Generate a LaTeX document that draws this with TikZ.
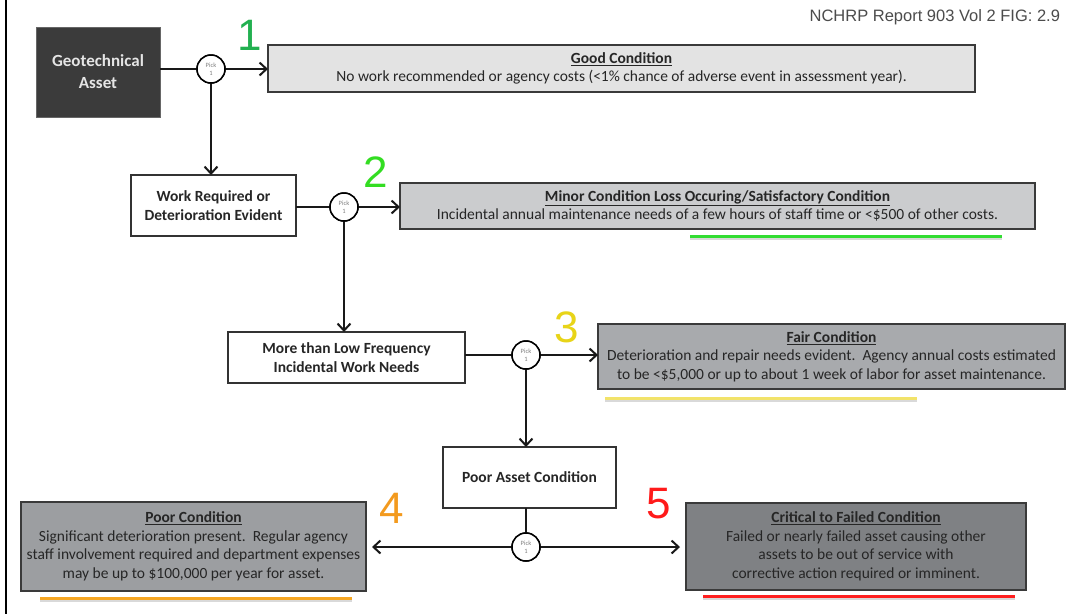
\documentclass[tikz,border=0pt]{standalone}
\usepackage{fontspec}
\setmainfont{Carlito}
\newfontfamily\arialf{Liberation Sans}
\usetikzlibrary{arrows.meta}
\definecolor{bordc}{HTML}{3A3A3A}
\definecolor{geofill}{HTML}{3B3B3B}
\definecolor{goodfill}{HTML}{E3E3E3}
\definecolor{minorfill}{HTML}{CBCCCE}
\definecolor{fairfill}{HTML}{A8AAAD}
\definecolor{poorfill}{HTML}{9C9EA1}
\definecolor{critfill}{HTML}{7F8184}
\definecolor{gone}{HTML}{22B050}
\definecolor{gtwo}{HTML}{33DD22}
\definecolor{ythree}{HTML}{E8D418}
\definecolor{ofour}{HTML}{F39A1E}
\definecolor{rfive}{HTML}{FF1A1A}
\definecolor{ulgreen}{HTML}{33DD33}
\definecolor{ulyellow}{HTML}{F2E36A}
\definecolor{ulorange}{HTML}{F5A623}
\definecolor{ulred}{HTML}{FF2020}
\tikzset{
  every node/.style={inner sep=0pt, outer sep=0pt},
  condbox/.style={draw=bordc, line width=2.5pt, rectangle, align=center, font=\fontsize{15.5}{18.5}\selectfont, text=black!85},
  stagebox/.style={draw=black!80, line width=2pt, fill=white, rectangle, align=center, font=\fontsize{15.5}{18.5}\selectfont\bfseries, text=black!85},
  geobox/.style={fill=geofill, draw=black!60, line width=0.8pt, rectangle, align=center, font=\fontsize{17}{22}\selectfont\bfseries, text=white!90!black},
  pick/.style={circle, draw=black, line width=1.5pt, fill=white, minimum size=28pt, align=center, font=\fontsize{6.5}{8}\selectfont, text=black!50},
  conn/.style={line width=2pt, draw=black!90},
  arr/.style={conn, -{Straight Barb[length=7pt, width=13pt, line width=2pt]}},
  num/.style={font=\arialf\fontsize{44}{44}\selectfont},
  uline/.style={line width=3pt}
}
\newcommand{\ttl}[1]{\underline{\textbf{#1}}}
\begin{document}
\begin{tikzpicture}[x=1pt, y=-1pt]
\useasboundingbox (0,0) rectangle (1071,614);
\fill[white] (0,0) rectangle (1071,614);
% left border
\draw[line width=2pt, black] (6,0) -- (6,614);
% header
\node[anchor=east, font=\arialf\fontsize{16.5}{16.5}\selectfont, text=black!70] (hdr) at (1060,17) {NCHRP Report 903 Vol 2 FIG: 2.9};

% nodes
\node[geobox, minimum width=124pt, minimum height=90pt] (geo) at (98,72) {Geotechnical\\Asset};
\node[pick] (p1) at (211,69) {Pick\\1};
\node[condbox, fill=goodfill, minimum width=707pt, minimum height=47pt] (good) at (621.5,68.5)
  {\ttl{Good Condition}\\No work recommended or agency costs (<1\% chance of adverse event in assessment year).};

\node[stagebox, minimum width=165pt, minimum height=61pt] (work) at (213.5,205.5) {Work Required or\\Deterioration Evident};
\node[pick] (p2) at (344,207) {Pick\\1};
\node[condbox, fill=minorfill, minimum width=635pt, minimum height=46pt] (minor) at (717.5,206)
  {\ttl{Minor Condition Loss Occuring/Satisfactory Condition}\\Incidental annual maintenance needs of a few hours of staff time or <\$500 of other costs.};

\node[stagebox, minimum width=237pt, minimum height=51pt] (more) at (346.5,357.5) {More than Low Frequency\\Incidental Work Needs};
\node[pick] (p3) at (526,355) {Pick\\1};
\node[condbox, fill=fairfill, minimum width=467pt, minimum height=65pt] (fair) at (831.5,356.5)
  {\ttl{Fair Condition}\\Deterioration and repair needs evident.\ \ Agency annual costs estimated\\to be <\$5,000 or up to about 1 week of labor for asset maintenance.};

\node[stagebox, minimum width=173pt, minimum height=61pt] (pa) at (529.5,477.5) {Poor Asset Condition};
\node[pick] (p4) at (526,547) {Pick\\1};
\node[condbox, fill=poorfill, minimum width=345pt, minimum height=89pt] (poor) at (193.5,546.5)
  {\ttl{Poor Condition}\\Significant deterioration present.\ \ Regular agency\\staff involvement required and department expenses\\may be up to \$100,000 per year for asset.};
\node[condbox, fill=critfill, minimum width=340pt, minimum height=87pt] (crit) at (856,546.5)
  {\ttl{Critical to Failed Condition}\\Failed or nearly failed asset causing other\\assets to be out of service with\\corrective action required or imminent.};

% numbers
\node[num, text=gone] (n1) at (250,35) {1};
\node[num, text=gtwo] (n2) at (376,172) {2};
\node[num, text=ythree] (n3) at (567,327) {3};
\node[num, text=ofour] (n4) at (392,508) {4};
\node[num, text=rfive] (n5) at (659,504) {5};

% connectors
\draw[conn] (geo.east |- p1) -- (p1);
\draw[arr] (p1) -- (p1 -| good.west);
\draw[arr] (p1) -- (p1 |- work.north);
\draw[conn] (work.east |- p2) -- (p2);
\draw[arr] (p2) -- (p2 -| minor.west);
\draw[arr] (p2) -- (p2 |- more.north);
\draw[conn] (more.east |- p3) -- (p3);
\draw[arr] (p3) -- (p3 -| fair.west);
\draw[arr] (p3) -- (p3 |- pa.north);
\draw[conn] (pa.south -| p4) -- (p4);
\draw[arr] (p4) -- ([xshift=6pt]p4 -| poor.east);
\draw[arr] (p4) -- ([xshift=-6pt]p4 -| crit.west);
% redraw circles on top
\node[pick] at (p1) {Pick\\1};
\node[pick] at (p2) {Pick\\1};
\node[pick] at (p3) {Pick\\1};
\node[pick] at (p4) {Pick\\1};

% coloured underlines
\draw[uline, black!15] (690,238.5) -- (1002,238.5);
\draw[uline, ulgreen] (690,236) -- (1002,236);
\draw[uline, black!15] (605,400.5) -- (917,400.5);
\draw[uline, ulyellow] (605,398) -- (917,398);
\draw[uline, black!15] (40,600.5) -- (352,600.5);
\draw[uline, ulorange] (40,598) -- (352,598);
\draw[uline, black!15] (703,598.5) -- (1015,598.5);
\draw[uline, ulred] (703,596) -- (1015,596);
\end{tikzpicture}
\end{document}
